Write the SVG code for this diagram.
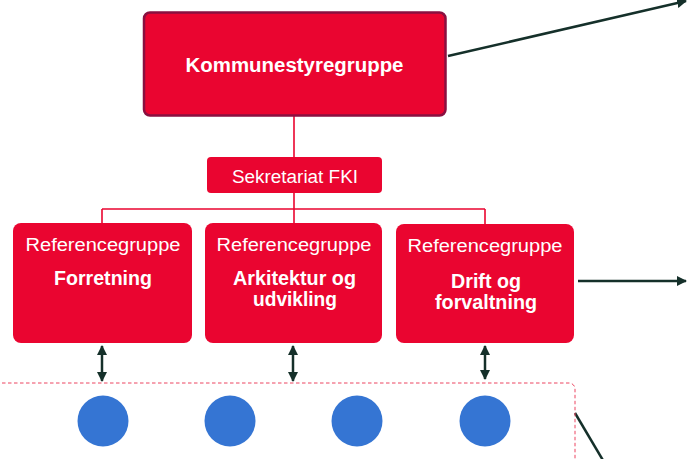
<svg xmlns="http://www.w3.org/2000/svg" width="689" height="459" viewBox="0 0 689 459">
<defs>
<style>
.box{fill:#EA0530;}
.t{font-family:"Liberation Sans",Arial,sans-serif;fill:#fff;text-anchor:middle;}
.b{font-weight:bold;font-size:19.5px;}
.r{font-size:18px;}
.tree{stroke:#EA0530;stroke-width:1.6;fill:none;}
.arr{stroke:#15302a;stroke-width:2.5;fill:none;}
.dot{fill:#3575D3;}
</style>
<marker id="ah" viewBox="0 0 10 10" refX="9" refY="5" markerWidth="4" markerHeight="4" orient="auto-start-reverse" markerUnits="strokeWidth">
<path d="M0,0 L10,5 L0,10 z" fill="#15302a"/>
</marker>
</defs>
<g id="connectors">
<path class="tree" d="M294,116 V157 M294,193 V223 M102,209 H485 M102,209 V223 M485,209 V224"/>
<line class="arr" x1="448" y1="56" x2="686" y2="1" marker-end="url(#ah)"/>
<line class="arr" x1="578" y1="281" x2="686" y2="281" marker-end="url(#ah)"/>
<line class="arr" x1="102" y1="346" x2="102" y2="381" marker-start="url(#ah)" marker-end="url(#ah)"/>
<line class="arr" x1="293" y1="346" x2="293" y2="381" marker-start="url(#ah)" marker-end="url(#ah)"/>
<line class="arr" x1="485" y1="346" x2="485" y2="379" marker-start="url(#ah)" marker-end="url(#ah)"/>
<line class="arr" x1="575" y1="413" x2="604" y2="462"/>
</g>
<g id="kommunestyregruppe">
<rect class="box" x="144" y="12.5" width="301.5" height="103" rx="6" stroke="#8A1040" stroke-width="2.5"/>
<text class="t b" x="294.5" y="72" textLength="218" lengthAdjust="spacingAndGlyphs">Kommunestyregruppe</text>
</g>
<g id="sekretariat">
<rect class="box" x="207" y="157" width="175" height="36" rx="4"/>
<text class="t r" x="295" y="183" textLength="126" lengthAdjust="spacingAndGlyphs">Sekretariat FKI</text>
</g>
<g id="ref-forretning">
<rect class="box" x="13" y="223" width="179" height="120" rx="8"/>
<text class="t r" x="103" y="250.5" textLength="155" lengthAdjust="spacingAndGlyphs">Referencegruppe</text>
<text class="t b" x="103" y="285" textLength="98" lengthAdjust="spacingAndGlyphs">Forretning</text>
</g>
<g id="ref-arkitektur">
<rect class="box" x="205" y="223" width="177" height="120" rx="8"/>
<text class="t r" x="294" y="250.5" textLength="155" lengthAdjust="spacingAndGlyphs">Referencegruppe</text>
<text class="t b" x="294.5" y="284.5" textLength="123" lengthAdjust="spacingAndGlyphs">Arkitektur og</text>
<text class="t b" x="295" y="306" textLength="84" lengthAdjust="spacingAndGlyphs">udvikling</text>
</g>
<g id="ref-drift">
<rect class="box" x="396" y="224" width="178" height="119" rx="8"/>
<text class="t r" x="485" y="251.5" textLength="155" lengthAdjust="spacingAndGlyphs">Referencegruppe</text>
<text class="t b" x="486" y="287.5" textLength="70" lengthAdjust="spacingAndGlyphs">Drift og</text>
<text class="t b" x="486" y="308.5" textLength="102" lengthAdjust="spacingAndGlyphs">forvaltning</text>
</g>
<g id="members">
<rect x="-10" y="383" width="585" height="100" rx="6" fill="none" stroke="#EC4560" stroke-width="1" stroke-dasharray="3.5 2.5"/>
<circle class="dot" cx="103" cy="421" r="25.5"/>
<circle class="dot" cx="230" cy="421" r="25.5"/>
<circle class="dot" cx="357" cy="421" r="25.5"/>
<circle class="dot" cx="485" cy="421" r="25.5"/>
</g>
</svg>
